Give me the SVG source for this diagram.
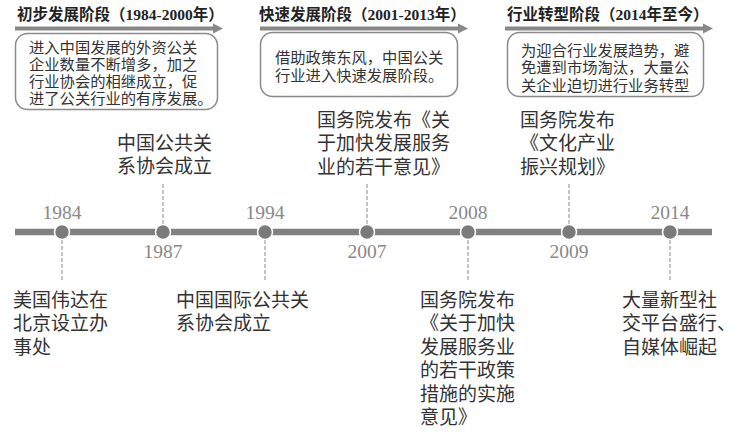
<svg xmlns="http://www.w3.org/2000/svg" width="750" height="439" viewBox="0 0 750 439">
<style>
.hd{font-family:"Liberation Serif","Noto Sans CJK SC",serif;font-weight:bold;font-size:15.5px;fill:#222}
.bx{fill:#fff;stroke:#8a8a8a;stroke-width:1.5}
.bt{font-family:"Noto Sans CJK SC",sans-serif;font-size:15.3px;fill:#333}
.ev{font-family:"Noto Sans CJK SC",sans-serif;font-size:19px;fill:#333}
.yr{font-family:"Liberation Serif",serif;font-size:19.5px;fill:#888;text-anchor:middle}
.ar{stroke:#888;stroke-width:4;fill:none}
.ah{fill:#888}
.dash{stroke:#888;stroke-width:1;stroke-dasharray:4 2;fill:none}
.dot{fill:#7a7a7a;stroke:#fff;stroke-width:1.5}
</style>

<g id="phase1">
<text class="hd" x="17" y="20">初步发展阶段（1984-2000年）</text>
<line class="ar" x1="15" y1="28.5" x2="214" y2="28.5"/>
<polygon class="ah" points="213,23.5 223,28.5 213,33.5"/>
<rect class="bx" x="15.5" y="33.5" width="202" height="76" rx="12"/>
<text class="bt" x="29" y="52.5">进入中国发展的外资公关</text>
<text class="bt" x="29" y="69.7">企业数量不断增多，加之</text>
<text class="bt" x="29" y="86.9">行业协会的相继成立，促</text>
<text class="bt" x="29" y="104.1">进了公关行业的有序发展。</text>
</g>

<g id="phase2">
<text class="hd" x="259" y="20">快速发展阶段（2001-2013年）</text>
<line class="ar" x1="260" y1="28.5" x2="459" y2="28.5"/>
<polygon class="ah" points="458,23.5 468,28.5 458,33.5"/>
<rect class="bx" x="260.5" y="32.5" width="197" height="64" rx="12"/>
<text class="bt" x="275" y="62.5">借助政策东风，中国公关</text>
<text class="bt" x="275" y="80.5">行业进入快速发展阶段。</text>
</g>

<g id="phase3">
<text class="hd" x="507" y="20">行业转型阶段（2014年至今）</text>
<line class="ar" x1="505" y1="28.5" x2="704" y2="28.5"/>
<polygon class="ah" points="703,23.5 713,28.5 703,33.5"/>
<rect class="bx" x="507.5" y="32.5" width="196" height="64" rx="12"/>
<text class="bt" x="521" y="55.5">为迎合行业发展趋势，避</text>
<text class="bt" x="521" y="73">免遭到市场淘汰，大量公</text>
<text class="bt" x="521" y="90.5">关企业迫切进行业务转型</text>
</g>

<g id="connectors">
<line x1="15" y1="232" x2="712" y2="232" stroke="#808080" stroke-width="6.5"/>
<line class="dash" x1="62" y1="240" x2="62" y2="282"/>
<line class="dash" x1="163" y1="224" x2="163" y2="182"/>
<line class="dash" x1="265" y1="240" x2="265" y2="282"/>
<line class="dash" x1="367" y1="224" x2="367" y2="182"/>
<line class="dash" x1="468" y1="240" x2="468" y2="282"/>
<line class="dash" x1="569" y1="224" x2="569" y2="183"/>
<line class="dash" x1="670" y1="240" x2="670" y2="282"/>
</g>

<g id="n1984">
<circle class="dot" cx="62" cy="232" r="7.5"/>
<text class="yr" x="62" y="219">1984</text>
<text class="ev" x="13" y="307">美国伟达在</text>
<text class="ev" x="13" y="330.4">北京设立办</text>
<text class="ev" x="13" y="353.8">事处</text>
</g>

<g id="n1987">
<circle class="dot" cx="163" cy="232" r="7.5"/>
<text class="yr" x="163" y="258">1987</text>
<text class="ev" x="117" y="150">中国公共关</text>
<text class="ev" x="117" y="172.5">系协会成立</text>
</g>

<g id="n1994">
<circle class="dot" cx="265" cy="232" r="7.5"/>
<text class="yr" x="265" y="219">1994</text>
<text class="ev" x="176" y="307">中国国际公共关</text>
<text class="ev" x="176" y="330.4">系协会成立</text>
</g>

<g id="n2007">
<circle class="dot" cx="367" cy="232" r="7.5"/>
<text class="yr" x="367" y="258">2007</text>
<text class="ev" x="317" y="127">国务院发布《关</text>
<text class="ev" x="317" y="150.4">于加快发展服务</text>
<text class="ev" x="317" y="173.8">业的若干意见》</text>
</g>

<g id="n2008">
<circle class="dot" cx="468" cy="232" r="7.5"/>
<text class="yr" x="468" y="219">2008</text>
<text class="ev" x="420" y="307">国务院发布</text>
<text class="ev" x="420" y="330.4">《关于加快</text>
<text class="ev" x="420" y="353.8">发展服务业</text>
<text class="ev" x="420" y="377.2">的若干政策</text>
<text class="ev" x="420" y="400.6">措施的实施</text>
<text class="ev" x="420" y="424">意见》</text>
</g>

<g id="n2009">
<circle class="dot" cx="569" cy="232" r="7.5"/>
<text class="yr" x="569" y="258">2009</text>
<text class="ev" x="520" y="127">国务院发布</text>
<text class="ev" x="520" y="150.4">《文化产业</text>
<text class="ev" x="520" y="173.8">振兴规划》</text>
</g>

<g id="n2014">
<circle class="dot" cx="670" cy="232" r="7.5"/>
<text class="yr" x="670" y="219">2014</text>
<text class="ev" x="622" y="307">大量新型社</text>
<text class="ev" x="622" y="330.4">交平台盛行、</text>
<text class="ev" x="622" y="353.8">自媒体崛起</text>
</g>
</svg>
